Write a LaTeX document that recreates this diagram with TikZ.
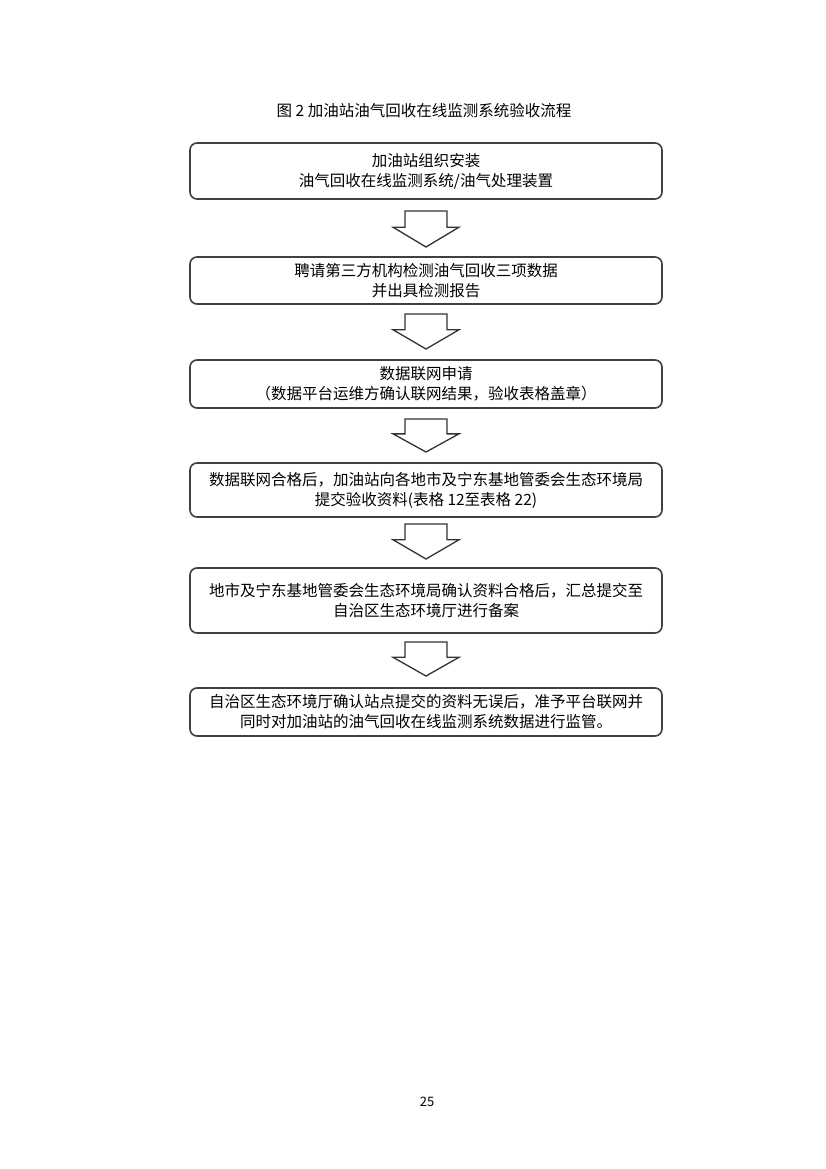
\documentclass[tikz,border=0pt]{standalone}
\usepackage{fontspec}
\setmainfont{Noto Sans CJK SC}
\begin{document}
\begin{tikzpicture}[x=1pt,y=-1pt,
  box/.style={draw=black!75,line width=1.6pt,rounded corners=7pt,minimum width=472pt,align=center,font=\fontsize{15.5}{20}\selectfont,inner sep=0pt},
  blockarrow/.style={draw=black!80,line width=1.3pt,fill=white}]
\useasboundingbox (0,0) rectangle (826,1169);
\node[font=\fontsize{15.5}{18}\selectfont] (title) at (424,111) {图 2\ 加油站油气回收在线监测系统验收流程};
\node[box,minimum height=56pt] (b1) at (426,171) {加油站组织安装\\油气回收在线监测系统/油气处理装置};
\node[box,minimum height=47pt] (b2) at (426,280.5) {聘请第三方机构检测油气回收三项数据\\并出具检测报告};
\node[box,minimum height=48pt] (b3) at (426,384) {数据联网申请\\（数据平台运维方确认联网结果，验收表格盖章）};
\node[box,minimum height=54pt] (b4) at (426,490) {数据联网合格后，加油站向各地市及宁东基地管委会生态环境局\\提交验收资料(表格 12至表格 22)};
\node[box,minimum height=65pt] (b5) at (426,600.5) {地市及宁东基地管委会生态环境局确认资料合格后，汇总提交至\\自治区生态环境厅进行备案};
\node[box,minimum height=48pt] (b6) at (426,712) {自治区生态环境厅确认站点提交的资料无误后，准予平台联网并\\同时对加油站的油气回收在线监测系统数据进行监管。};
\node at (427,1102) [font=\fontsize{13}{15}\selectfont] (pg) {25};
\foreach \t/\bt in {211/247,314/349,419/452,524/559,642/676}{
  \pgfmathsetmacro{\m}{\t+0.45*(\bt-\t)}
  \draw[blockarrow] (405,\t) -- (447,\t) -- (447,\m) -- (459,\m) -- (426,\bt) -- (393,\m) -- (405,\m) -- cycle;
}
\end{tikzpicture}
\end{document}
